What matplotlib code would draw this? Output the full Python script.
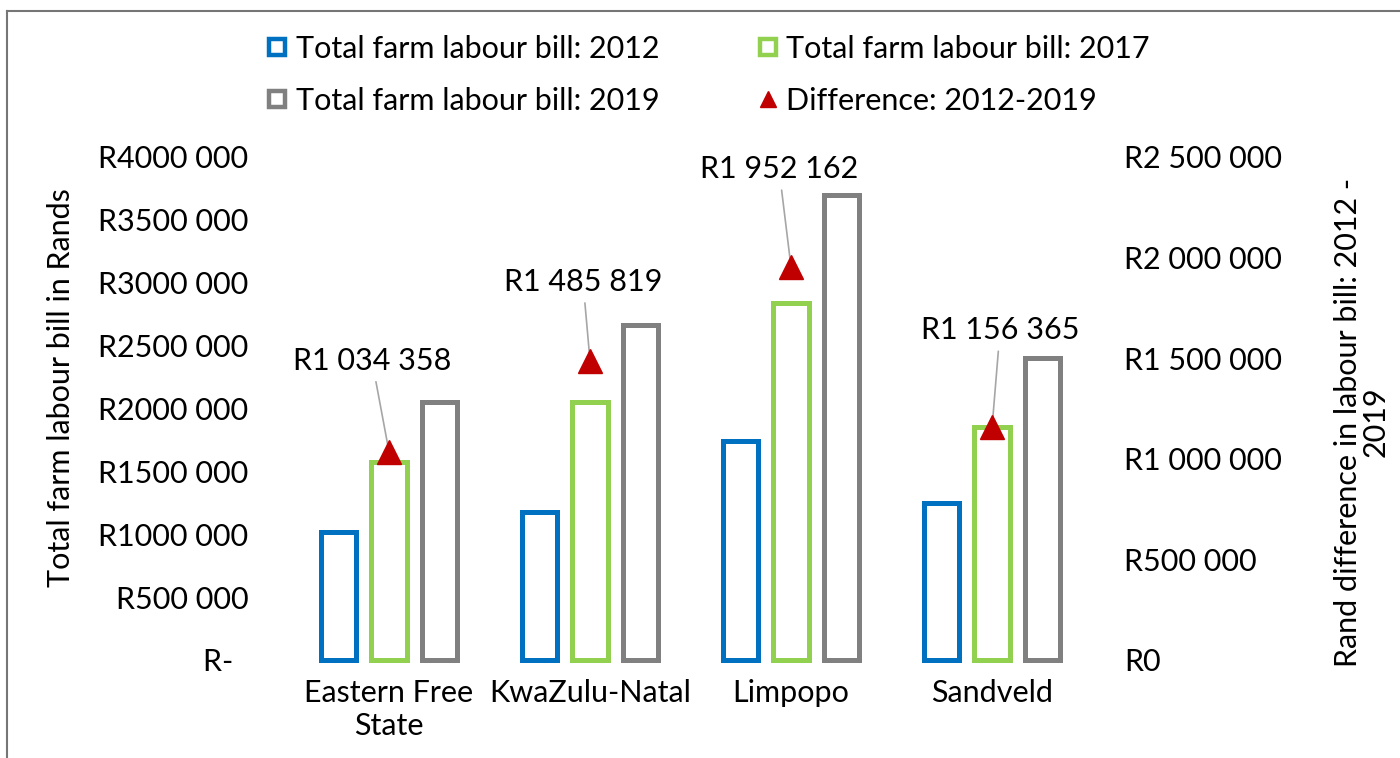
import matplotlib.pyplot as plt
import numpy as np
from matplotlib.lines import Line2D

plt.rcParams['font.family'] = ['Lato', 'DejaVu Sans']

# farm labour bill per region (Rands)
regions = ['Eastern Free\nState', 'KwaZulu-Natal', 'Limpopo', 'Sandveld']
bill_2012 = [1014000, 1178000, 1742000, 1245000]
bill_2017 = [1576000, 2048000, 2839000, 1849000]
bill_2019 = [2048000, 2664000, 3694000, 2401000]
difference = [1034358, 1485819, 1952162, 1156365]
diff_labels = ['R1 034 358', 'R1 485 819', 'R1 952 162', 'R1 156 365']

left_ticks = ['R-  ', 'R500 000', 'R1000 000', 'R1500 000', 'R2000 000',
              'R2500 000', 'R3000 000', 'R3500 000', 'R4000 000']
right_ticks = ['R0', 'R500 000', 'R1 000 000', 'R1 500 000', 'R2 000 000',
               'R2 500 000']

series_names = ['Total farm labour bill: 2012', 'Total farm labour bill: 2017',
                'Total farm labour bill: 2019', 'Difference: 2012-2019']
colors = ['#0070C0', '#92D050', '#808080', '#C00000']

fs = 22
fig = plt.figure(figsize=(14, 7.58), dpi=100)
ax = fig.add_axes([0.2061, 0.1293, 0.5743, 0.6636])
ax2 = ax.twinx()

x = np.arange(len(regions))
w = 0.175
for off, vals, c in zip([-0.25, 0, 0.25], [bill_2012, bill_2017, bill_2019], colors):
    ax.bar(x + off, vals, width=w, facecolor='white', edgecolor=c,
           linewidth=3.6, clip_on=False)

ax.set_xlim(-0.5, 3.5)
ax.set_ylim(0, 4000000)
ax.set_yticks(np.arange(0, 4000001, 500000))
ax.set_yticklabels(left_ticks)
ax.set_xticks(x)
ax.set_xticklabels(regions, multialignment='center')
ax.tick_params(axis='y', length=0, pad=29, labelsize=fs)
ax.tick_params(axis='x', length=0, pad=14, labelsize=fs)

# difference on the secondary axis
ax2.set_ylim(0, 2500000)
ax2.set_yticks(np.arange(0, 2500001, 500000))
ax2.set_yticklabels(right_ticks)
ax2.tick_params(axis='y', length=0, pad=22.7, labelsize=fs)
ax2.plot(x, difference, ls='none', marker='^', ms=17, color=colors[3],
         zorder=5, clip_on=False)

offsets = [(-17, 82), (-7, 70), (-12, 89), (8, 88)]
for i, (d, lab) in enumerate(zip(difference, diff_labels)):
    ax2.annotate(lab, xy=(i, d), xytext=offsets[i], textcoords='offset pixels',
                 ha='center', va='baseline', fontsize=fs, zorder=4,
                 arrowprops=dict(arrowstyle='-', color='#A6A6A6', lw=1.2,
                                 shrinkA=3, shrinkB=0))

for a in (ax, ax2):
    for s in a.spines.values():
        s.set_visible(False)

fig.text(61 / 1400, 1 - 388 / 758, 'Total farm labour bill in Rands',
         rotation=90, ha='center', va='center', fontsize=fs)
fig.text(1362 / 1400, 1 - 422 / 758,
         'Rand difference in labour bill: 2012 -\n2019',
         rotation=90, ha='center', va='center', fontsize=fs,
         multialignment='center', linespacing=1.0)

# legend with hollow squares for the bars
handles = [Line2D([], [], ls='none', marker='s', ms=12, mfc='white',
                  mec=c, mew=3.2) for c in colors[:3]]
handles.append(Line2D([], [], ls='none', marker='^', ms=12, color=colors[3]))
order = [0, 2, 1, 3]
fig.legend([handles[i] for i in order], [series_names[i] for i in order],
           ncol=2, loc='upper left', bbox_to_anchor=(268 / 1400, 1 - 35 / 758),
           frameon=False, fontsize=fs, handlelength=0.6, handletextpad=0.3,
           columnspacing=3.25, labelspacing=0.78, borderpad=0,
           borderaxespad=0)

# chart border
fig.add_artist(Line2D([7 / 1400, 1], [1 - 11 / 758] * 2, color='#767676',
                      lw=1.5, transform=fig.transFigure))
fig.add_artist(Line2D([7 / 1400] * 2, [0, 1 - 11 / 758], color='#767676',
                      lw=1.5, transform=fig.transFigure))

fig.savefig('out.png', dpi=100)
